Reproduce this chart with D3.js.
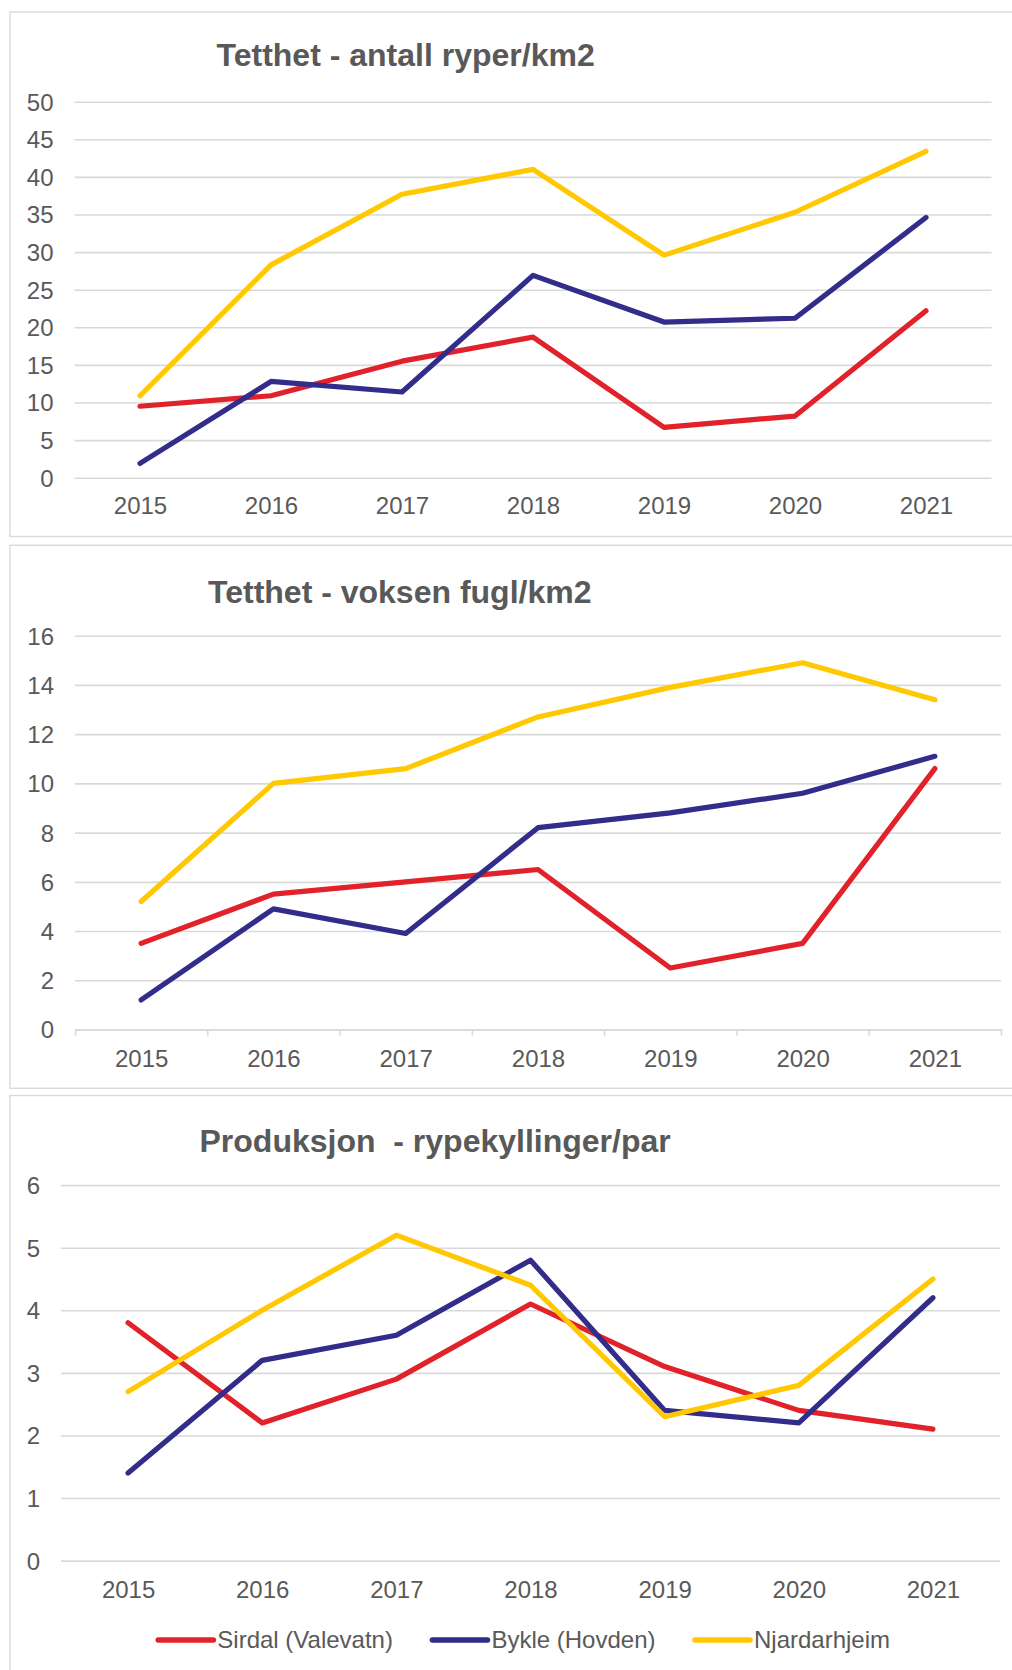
<!DOCTYPE html>
<html><head><meta charset="utf-8">
<script src="https://cdn.jsdelivr.net/npm/d3@7"></script>
<style>
body{margin:0;background:#fff}
svg{display:block}
text{font-family:"Liberation Sans",Arial,Helvetica,sans-serif}
</style>
</head><body>
<svg id="c" width="1012" height="1670"></svg>
<script>
// ---- data ----
const years = ["2015","2016","2017","2018","2019","2020","2021"];
const seriesNames = ["Sirdal (Valevatn)","Bykle (Hovden)","Njardarhjeim"];
const titles = ["Tetthet - antall ryper/km2","Tetthet - voksen fugl/km2","Produksjon  - rypekyllinger/par"];

const antallSirdal = [9.5, 10.9, 15.5, 18.7, 6.7, 8.2, 22.2];
const antallBykle  = [1.9, 12.8, 11.4, 26.9, 20.7, 21.2, 34.6];
const antallNjard  = [10.9, 28.3, 37.7, 41.0, 29.6, 35.3, 43.4];
const antallTicks  = [0,5,10,15,20,25,30,35,40,45,50];

const voksenSirdal = [3.5, 5.5, 6.0, 6.5, 2.5, 3.5, 10.6];
const voksenBykle  = [1.2, 4.9, 3.9, 8.2, 8.8, 9.6, 11.1];
const voksenNjard  = [5.2, 10.0, 10.6, 12.7, 13.9, 14.9, 13.4];
const voksenTicks  = [0,2,4,6,8,10,12,14,16];

const prodSirdal = [3.8, 2.2, 2.9, 4.1, 3.1, 2.4, 2.1];
const prodBykle  = [1.4, 3.2, 3.6, 4.8, 2.4, 2.2, 4.2];
const prodNjard  = [2.7, 4.0, 5.2, 4.4, 2.3, 2.8, 4.5];
const prodTicks  = [0,1,2,3,4,5,6];

// ---- styling / layout ----
const colors = ["#E2222A","#322C8A","#FFC800"];
const textColor = "#595959";
const gridColor = "#D9D9D9";
const tickFont = 24, titleFont = 32;

const panels = [
  {title:titles[0], series:[antallSirdal,antallBykle,antallNjard], ticks:antallTicks,
   boxY:12, boxH:524.5, l:74.5, r:991.5, yTop:101.7, yBot:477.7, titleX:216.5, titleY:66,
   yearY:514, axisLine:false},
  {title:titles[1], series:[voksenSirdal,voksenBykle,voksenNjard], ticks:voksenTicks,
   boxY:545.3, boxH:543, l:75, r:1001, yTop:635.7, yBot:1029.5, titleX:208, titleY:602.5,
   yearY:1066.5, axisLine:true},
  {title:titles[2], series:[prodSirdal,prodBykle,prodNjard], ticks:prodTicks,
   boxY:1095.5, boxH:620, l:61, r:1000, yTop:1185.1, yBot:1560.6, titleX:199.5, titleY:1151.7,
   yearY:1597.7, axisLine:false, legend:true}
];

const svg = d3.select("#c");

panels.forEach(p => {
  const g = svg.append("g");
  g.append("rect").attr("x",10).attr("y",p.boxY).attr("width",1020).attr("height",p.boxH)
    .attr("fill","#fff").attr("stroke",gridColor).attr("stroke-width",1.4);

  g.append("text").attr("x",p.titleX).attr("y",p.titleY)
    .attr("fill",textColor).attr("font-size",titleFont).attr("font-weight","bold")
    .style("white-space","pre").attr("xml:space","preserve")
    .text(p.title);

  const x = d3.scalePoint().domain(years).range([p.l,p.r]).padding(0.5);
  const y = d3.scaleLinear().domain([d3.min(p.ticks), d3.max(p.ticks)]).range([p.yBot,p.yTop]);

  const ya = g.append("g").attr("transform",`translate(${p.l},0)`)
    .call(d3.axisLeft(y).tickValues(p.ticks).tickSize(-(p.r-p.l)).tickPadding(21).tickFormat(d3.format("d")));
  ya.select(".domain").remove();
  ya.selectAll(".tick line").attr("stroke",gridColor).attr("stroke-width",1.6);
  ya.selectAll(".tick text").attr("fill",textColor).attr("font-size",tickFont)
    .attr("font-family",null).attr("dy","0.35em");

  if (p.axisLine) {
    const xi = d3.scaleLinear().domain([0, years.length]).range([p.l,p.r]);
    const xa = g.append("g").attr("transform",`translate(0,${p.yBot})`)
      .call(d3.axisBottom(xi).tickValues(d3.range(years.length+1)).tickSize(6).tickSizeOuter(0).tickFormat(""));
    xa.select(".domain").attr("stroke",gridColor).attr("stroke-width",1.6);
    xa.selectAll(".tick line").attr("stroke",gridColor).attr("stroke-width",1.6);
  }

  const xl = g.append("g").attr("transform",`translate(0,${p.yBot})`)
    .call(d3.axisBottom(x).tickSize(0).tickPadding(0));
  xl.select(".domain").remove();
  xl.selectAll(".tick text").attr("fill",textColor).attr("font-size",tickFont)
    .attr("font-family",null).attr("y",p.yearY - p.yBot).attr("dy",0);

  const line = d3.line().x((d,i)=>x(years[i])).y(d=>y(d));
  p.series.forEach((s,k) => {
    g.append("path").datum(s).attr("d",line).attr("fill","none")
      .attr("stroke",colors[k]).attr("stroke-width",5.2)
      .attr("stroke-linejoin","round").attr("stroke-linecap","round");
  });

  if (p.legend) {
    let lx = 158.3;
    const ly = 1640;
    seriesNames.forEach((name,k) => {
      const lg = svg.append("g");
      lg.append("line").attr("x1",lx).attr("x2",lx+55).attr("y1",ly).attr("y2",ly)
        .attr("stroke",colors[k]).attr("stroke-width",5.6).attr("stroke-linecap","round");
      const t = lg.append("text").attr("x",lx+59).attr("y",ly+8.3)
        .attr("fill",textColor).attr("font-size",tickFont).text(name);
      lx = lx + 59 + t.node().getComputedTextLength() + 39.5;
    });
  }
});
</script>
</body></html>
